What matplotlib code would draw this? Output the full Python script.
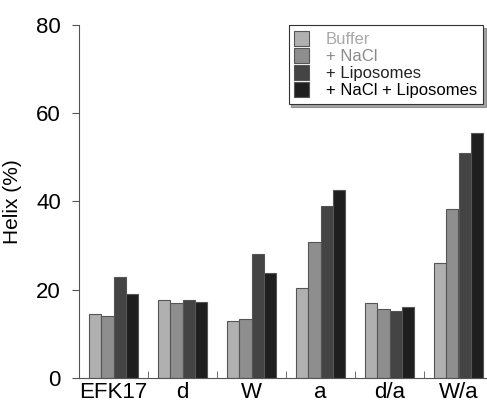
import numpy as np
import matplotlib.pyplot as plt

groups = ["EFK17", "d", "W", "a", "d/a", "W/a"]
series = ["Buffer", "+ NaCl", "+ Liposomes", "+ NaCl + Liposomes"]
buffer_vals = [14.4, 17.6, 12.9, 20.4, 17.1, 26.0]
nacl_vals = [14.1, 16.9, 13.3, 30.9, 15.6, 38.4]
lipo_vals = [22.8, 17.6, 28.1, 39.0, 15.1, 51.1]
nacl_lipo_vals = [19.0, 17.3, 23.9, 42.6, 16.1, 55.6]
colors = ["#b0b0b0", "#8e8e8e", "#444444", "#1e1e1e"]
text_colors = ["#a8a8a8", "#8a8a8a", "#222222", "#000000"]

plt.rcParams['font.family'] = ['Liberation Sans', 'DejaVu Sans']

fig = plt.figure(figsize=(4.87, 4.03), dpi=100)
ax = fig.add_axes([79/487, 25/403, 414/487, 353/403])

x = np.arange(len(groups))
w = 0.175
all_vals = [buffer_vals, nacl_vals, lipo_vals, nacl_lipo_vals]
handles = []
for i, vals in enumerate(all_vals):
    b = ax.bar(x + (i - 1.5) * w, vals, w, color=colors[i], edgecolor="#555555",
               linewidth=0.8, label=series[i])
    handles.append(b)

ax.set_xlim(-0.5, len(groups) - 0.5)
ax.set_ylim(0, 80)
ax.set_yticks([0, 20, 40, 60, 80])
ax.set_xticks(x)
ax.set_xticklabels(groups)
ax.set_xticks(np.arange(0.5, len(groups) - 0.5, 1), minor=True)
ax.tick_params(axis="x", which="major", length=0, labelsize=16, pad=3)
ax.tick_params(axis="x", which="minor", length=5, direction="in", color="#555555")
ax.tick_params(axis="y", labelsize=16, length=5, color="#555555", direction="out", pad=8)
ax.set_ylabel("Helix (%)", fontsize=15, labelpad=10)
for s in ["top", "right"]:
    ax.spines[s].set_visible(False)
for s in ["left", "bottom"]:
    ax.spines[s].set_color("#555555")

leg = ax.legend(handles=handles, loc="upper right", bbox_to_anchor=(0.976, 1.0),
                fontsize=12, frameon=True, fancybox=False, shadow=True,
                handlelength=0.9, handleheight=1.0, handletextpad=1.0,
                labelspacing=0.05, borderpad=0.35, borderaxespad=0.0)
leg.get_frame().set_edgecolor("#333333")
leg.get_frame().set_linewidth(0.8)
for t, c in zip(leg.get_texts(), text_colors):
    t.set_color(c)

fig.savefig("out.png", dpi=100)
